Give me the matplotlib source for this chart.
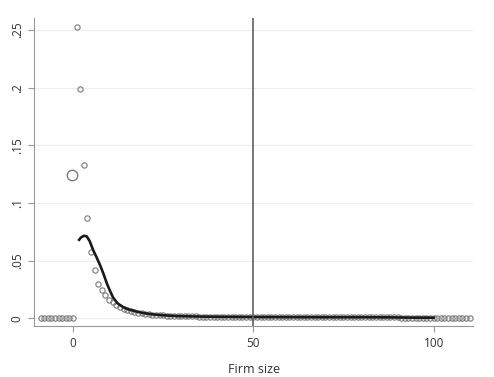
import numpy as np
from matplotlib import pyplot as plt

plt.rcParams['font.family'] = ['Open Sans', 'DejaVu Sans']

# share of firms by size (hollow markers)
left_x = list(range(-9, 1))
left_y = [0] * 10

big_x = [-0.3]
big_y = [0.124]

size_x = list(range(1, 101))
size_y = [0.253, 0.199, 0.133, 0.087, 0.057, 0.042, 0.030, 0.024, 0.020, 0.016,
          0.014, 0.011, 0.0095, 0.008, 0.007, 0.006, 0.0052, 0.0046, 0.0041, 0.0037,
          0.0033, 0.0030, 0.0028, 0.0026, 0.0024, 0.0022, 0.0020, 0.0019, 0.0018, 0.0017,
          0.0016, 0.0016, 0.0015, 0.0015, 0.0014, 0.0014, 0.0013, 0.0013, 0.0012, 0.0012,
          0.0011, 0.0011, 0.0011, 0.0011, 0.0010, 0.0010, 0.0010, 0.0010, 0.0010, 0.0010,
          0.0010, 0.0009, 0.0009, 0.0009, 0.0009, 0.0009, 0.0009, 0.0009, 0.0009, 0.0009,
          0.0008, 0.0008, 0.0008, 0.0008, 0.0008, 0.0008, 0.0008, 0.0008, 0.0008, 0.0008,
          0.0008, 0.0008, 0.0008, 0.0008, 0.0008, 0.0008, 0.0008, 0.0007, 0.0007, 0.0007,
          0.0007, 0.0007, 0.0007, 0.0007, 0.0007, 0.0007, 0.0007, 0.0007, 0.0006, 0.0006,
          0.0005, 0.0005, 0.0005, 0.0005, 0.0005, 0.0005, 0.0005, 0.0005, 0.0005, 0.0005]

right_x = list(range(101, 111))
right_y = [0] * 10

# smoothed density
kd_x = [1.7, 2.2, 3.0, 3.8, 4.6, 5.6, 6.5, 7.5, 8.5, 9.4, 10.2, 11.1, 12.3, 13.9,
        15.5, 17.5, 19.4, 22, 25, 29, 35, 40, 50, 60, 70, 80, 88, 92, 100]
kd_y = [0.068, 0.070, 0.0715, 0.071, 0.067, 0.059, 0.053, 0.046, 0.038, 0.030,
        0.024, 0.018, 0.013, 0.0095, 0.0075, 0.0058, 0.0045, 0.0033, 0.0025, 0.0018,
        0.0014, 0.0012, 0.0010, 0.0009, 0.0008, 0.0008, 0.0007, 0.0005, 0.0004]

cutoff = 50

fig = plt.figure(figsize=(4.94, 3.77), dpi=100)
ax = fig.add_axes([0.069, 0.135, 0.889, 0.817])

ax.set_xlim(-10.8, 111)
ax.set_ylim(-0.0069, 0.2604)

yt = [0, 0.05, 0.1, 0.15, 0.2, 0.25]
ax.set_yticks(yt)
ax.set_yticklabels(['0', '.05', '.1', '.15', '.2', '.25'], rotation=90, va='center')
ax.set_xticks([0, 50, 100])
ax.grid(axis='y', color='#eeeeee', linewidth=0.8)
ax.set_axisbelow(True)

mk = dict(linestyle='none', marker='o', mfc='none', mec='#7a7a7a', mew=0.8, ms=3.8)
ax.plot(left_x, left_y, **mk)
ax.plot(size_x, size_y, **mk)
ax.plot(right_x, right_y, **mk)
ax.plot(big_x, big_y, linestyle='none', marker='o', mfc='none', mec='#7a7a7a', mew=1.0, ms=7.5)

ax.plot(kd_x, kd_y, color='#1a1a1a', linewidth=1.9)
ax.axvline(cutoff, color='#606060', linewidth=1.2)

for s in ['top', 'right']:
    ax.spines[s].set_visible(False)
for s in ['left', 'bottom']:
    ax.spines[s].set_color('#999999')
ax.tick_params(colors='#999999', labelcolor='#333333', labelsize=8.5, length=4)
ax.set_xlabel('Firm size', fontsize=9, color='#333333', labelpad=10)

fig.savefig('out.png', dpi=100)
